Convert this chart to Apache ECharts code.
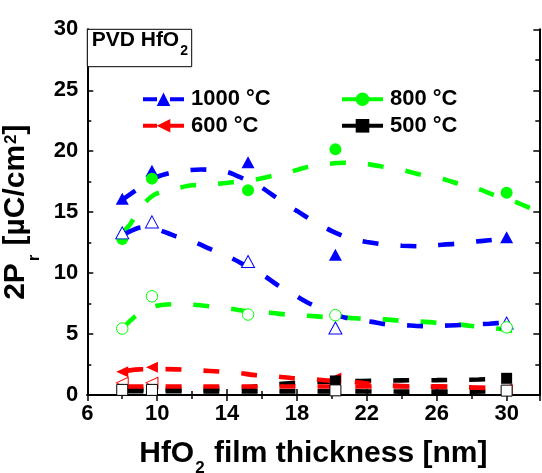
<!DOCTYPE html>
<html><head><meta charset="utf-8">
<script src="https://cdn.jsdelivr.net/npm/echarts@6/dist/echarts.min.js"></script>
<style>html,body{margin:0;padding:0;background:#fff}#c{width:542px;height:473px}</style>
</head><body><div id="c"></div>
<script>
const FONT = 'Liberation Sans';
// measured points
const filled1000 = [[8,16.1],[9.7,18.4],[15.2,19.1],[20.2,11.5],[30,12.95]];
const open1000   = [[8,13.3],[9.7,14.2],[15.2,10.95],[20.2,5.5],[30,5.9]];
const filled800  = [[8,12.8],[9.7,17.75],[15.2,16.8],[20.2,20.15],[30,16.6]];
const open800    = [[8,5.45],[9.7,8.1],[15.2,6.6],[20.2,6.55],[30,5.55]];
const filled600  = [[8,1.9],[9.7,2.27],[20.2,1.4],[30,0.5]];
const open600    = [[8,1.0],[9.7,1.0]];
const filled500  = [[20.2,1.15],[30,1.37]];
const open500    = [[8,0.42],[9.7,0.42],[20.2,0.38],[30,0.36]];
// fitted guide curves
const fitFilled1000 = [[8,16.0],[9,17.0],[10,17.9],[11,18.3],[12.5,18.5],[14,18.3],[15,17.7],[16,17.0],[17,16.0],[18,15.1],[19,14.2],[20,13.45],[21,12.85],[22,12.55],[23,12.35],[24,12.25],[25,12.2],[26,12.3],[27,12.4],[28,12.55],[29,12.7],[30,12.85]];
const fitOpen1000 = [[8.2,13.25],[8.9,13.7],[9.6,13.8],[10.2,13.5],[11,13.05],[12.2,12.5],[13,12.0],[14.3,11.2],[15,10.65],[16.1,9.8],[16.9,9.0],[18.1,8.0],[18.8,7.45],[20.3,6.55],[20.9,6.3],[22.3,6.0],[23.1,5.8],[24.5,5.7],[25.3,5.65],[26.7,5.7],[27.5,5.75],[29,5.85],[30,5.95]];
const fitFilled800 = [[8.05,13.4],[8.45,14.0],[9.05,15.4],[9.85,16.45],[11.1,16.95],[12,17.2],[13.3,17.3],[14.3,17.45],[15.4,17.6],[16.2,17.85],[17.6,18.3],[18.6,18.7],[19.8,18.95],[20.7,19.05],[22,18.95],[22.85,18.75],[24.2,18.4],[25,18.1],[26.4,17.7],[27.2,17.35],[28.4,16.9],[29.2,16.45],[30.5,15.85],[31.4,15.3],[31.87,15.05]];
const fitOpen800 = [[8.1,5.6],[8.7,6.4],[9.3,6.95],[9.9,7.3],[10.8,7.45],[12.1,7.4],[13.2,7.25],[14.3,7.05],[15.3,6.85],[16.45,6.75],[17.4,6.6],[18.65,6.5],[19.6,6.4],[20.8,6.35],[21.8,6.25],[23,6.2],[23.9,6.1],[25.3,6.0],[26.2,5.9],[27.5,5.75],[28.35,5.6],[29.7,5.4],[30.55,5.2]];
const fitFilled600 = [[8.3,2.0],[9,2.1],[10.5,2.12],[12,2.05],[13,1.97],[14.6,1.82],[15.5,1.65],[16.8,1.52],[17.75,1.38],[19,1.28],[19.9,1.18],[21.2,1.08],[22.1,0.92],[23.5,0.78],[24.4,0.72],[26,0.68],[28,0.62],[30,0.5]];
const fitOpen600 = [[8.3,0.7],[12,0.7],[16,0.7],[20,0.7],[24,0.7],[26,0.72],[28,0.62],[30,0.55]];
const fitFilled500 = [[8.3,0.45],[10.5,0.45],[13,0.5],[15,0.62],[17.3,0.93],[19.5,1.08],[21.7,1.15],[24,1.2],[26,1.22],[28.4,1.27],[30,1.37]];
const fitOpen500 = [[8.3,0.32],[12,0.3],[16,0.3],[20,0.3],[24,0.28],[28,0.28],[30,0.3]];

const BLUE='#0000ff', GREEN='#00ff00', RED='#ff0000', BLACK='#000000';
const DASH=[16,22];

function fit(data,color){
  return {type:'line',data:data,symbol:'none',smooth:0.25,silent:true,
    lineStyle:{color:color,width:4.6,type:DASH,cap:'butt'},z:2};
}
function marks(name,data,symbol,size,color,open,rot){
  return {type:'line',name:name,data:data,symbol:symbol,symbolSize:size,symbolRotate:rot||0,
    silent:true,lineStyle:{color:color,opacity:0,width:4},
    itemStyle: open?{color:'#ffffff',borderColor:color,borderWidth:1}:{color:color,borderWidth:0},z:3};
}
const legTxt = {fontFamily:FONT,fontSize:22,fontWeight:'bold',color:'#000',padding:[0,0,0,2]};
function leg(name,left,top,dash){
  return {data:[name],left:left,top:top,itemWidth:41,itemHeight:17,selectedMode:false,
    textStyle:legTxt,padding:0,lineStyle:{width:4,type:dash,opacity:1}};
}
const axLine={show:true,lineStyle:{color:'#000',width:2}};
const tick={show:true,inside:true,length:6,lineStyle:{color:'#000',width:1.5}};
const minor={show:true,splitNumber:2,length:4,lineStyle:{color:'#000',width:1.5}};
const lab={fontFamily:FONT,fontSize:22,fontWeight:'bold',color:'#000'};

const chart = echarts.init(document.getElementById('c'),null,{renderer:'canvas'});
chart.setOption({
  animation:false,
  backgroundColor:'#fff',
  grid:{left:87.3,right:2.7,top:29.3,bottom:78,containLabel:false,outerBoundsMode:'none'},
  legend:[leg('1000 °C',141,88.2,[14,13]),leg('800 °C',340,88.2,[14,13]),
          leg('600 °C',141,114.8,[14,13]),leg('500 °C',340,114.8,[14,13])],
  xAxis:[{type:'value',min:6,max:31.87,interval:4,position:'bottom',
    axisLine:axLine,axisTick:tick,minorTick:minor,splitLine:{show:false},
    axisLabel:Object.assign({margin:8,showMaxLabel:false},lab),
    name:'{a|HfO}{s|2}{a| film thickness [nm]}',nameLocation:'middle',nameGap:42,
    nameTextStyle:{rich:{a:{fontFamily:FONT,fontSize:30,fontWeight:'bold',color:'#000',lineHeight:34},
      s:{fontFamily:FONT,fontSize:17,fontWeight:'bold',color:'#000',lineHeight:18,padding:[29,1,0,1]}}}},
   {type:'value',min:6,max:31.87,interval:4,position:'top',
    axisLine:axLine,axisTick:tick,minorTick:minor,splitLine:{show:false},axisLabel:{show:false}}],
  yAxis:[{type:'value',min:0,max:30,interval:5,position:'left',
    axisLine:axLine,axisTick:tick,minorTick:minor,splitLine:{show:false},
    axisLabel:Object.assign({margin:9},lab),
    name:'{a|2P}{s|r}{a| [µC/cm}{p|2}{a|]}',nameLocation:'middle',nameRotate:90,nameGap:33,
    nameTextStyle:{rich:{a:{fontFamily:FONT,fontSize:30,fontWeight:'bold',color:'#000',lineHeight:34},
      s:{fontFamily:FONT,fontSize:16,fontWeight:'bold',color:'#000',lineHeight:18,padding:[38,1,0,2]},
      p:{fontFamily:FONT,fontSize:17,fontWeight:'bold',color:'#000',lineHeight:18,padding:[0,0,10,1]}}}},
   {type:'value',min:0,max:30,interval:5,position:'right',
    axisLine:axLine,axisTick:tick,minorTick:minor,splitLine:{show:false},axisLabel:{show:false}}],
  series:[
    fit(fitOpen500,BLACK), fit(fitFilled500,BLACK),
    fit(fitOpen600,RED), fit(fitFilled600,RED),
    fit(fitOpen800,GREEN), fit(fitFilled800,GREEN),
    fit(fitOpen1000,BLUE), fit(fitFilled1000,BLUE),
    marks('600 open',open600,'triangle',[11,12],RED,true,90),
    marks('600 °C',filled600,'triangle',[11,12],RED,false,90),
    marks('500 °C',filled500,'rect',11,BLACK,false),
    marks('500 open',open500,'rect',11,BLACK,true),
    marks('1000 °C',filled1000,'triangle',[13,12],BLUE,false),
    marks('800 °C',filled800,'circle',12,GREEN,false),
    marks('1000 open',open1000,'triangle',[13,12],BLUE,true),
    marks('800 open',open800,'circle',11.5,GREEN,true)
  ],
  graphic:[
    {type:'rect',z:100,shape:{x:87.3,y:29.3,width:104.4,height:37.4},style:{fill:'#fff',stroke:'#000',lineWidth:1}},
    {type:'text',z:101,x:91.7,y:28.3,style:{text:'{a|PVD HfO}{s|2}',verticalAlign:'top',align:'left',
      rich:{a:{fontFamily:FONT,fontSize:21,fontWeight:'bold',fill:'#000',lineHeight:24},
            s:{fontFamily:FONT,fontSize:14,fontWeight:'bold',fill:'#000',lineHeight:14,padding:[21,0,0,1]}}}}
  ]
});
</script></body></html>
